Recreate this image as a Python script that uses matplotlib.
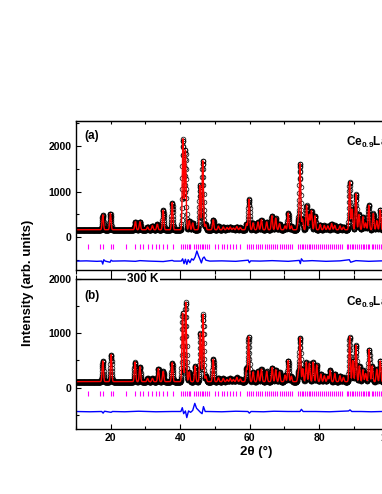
import numpy as np
import matplotlib.pyplot as plt
from matplotlib.ticker import MultipleLocator

plt.rcParams['font.family'] = ['Liberation Sans', 'DejaVu Sans']
plt.rcParams['mathtext.fontset'] = 'custom'
plt.rcParams['mathtext.bf'] = 'Liberation Sans:bold'
plt.rcParams['mathtext.rm'] = 'Liberation Sans:bold'
plt.rcParams['mathtext.default'] = 'bf'

# reflections: 2theta (deg) and height above background
pos_a = [17.7, 19.9, 27.1, 28.4, 30.6, 32.0, 33.4, 35.1, 37.7, 40.8,
         41.5, 42.6, 43.6, 45.7, 46.5, 47.3, 49.5, 51.0, 52.4, 53.5,
         54.4, 55.3, 56.3, 57.3, 59.1, 59.8, 61.0, 62.4, 63.4, 64.9,
         66.4, 67.5, 68.6, 70.2, 71.1, 72.0, 74.0, 74.5, 75.2, 76.4,
         77.2, 77.8, 78.8, 80.3, 81.5, 82.5, 83.6, 84.5, 86.0, 87.0,
         88.8, 89.5, 90.6, 91.5, 92.6, 93.4, 94.3, 95.6, 96.6, 97.6]
hgt_a = [325, 355, 175, 175, 60, 90, 120, 425, 595, 1985,
         1750, 200, 150, 975, 1515, 120, 215, 80, 60, 50,
         60, 40, 70, 50, 135, 665, 150, 170, 220, 170,
         305, 255, 135, 85, 365, 85, 200, 1445, 235, 535,
         335, 415, 305, 115, 95, 85, 135, 95, 85, 60,
         1045, 450, 785, 335, 285, 150, 535, 355, 200, 435]
bg_a = 165

pos_b = [17.7, 20.1, 27.0, 28.4, 30.6, 32.0, 33.7, 35.1, 37.7, 40.7,
         41.6, 42.6, 44.3, 45.8, 46.6, 47.4, 49.5, 51.0, 52.4, 53.5,
         54.4, 55.3, 56.3, 57.3, 59.1, 59.7, 61.0, 62.4, 63.4, 64.9,
         66.5, 67.5, 68.6, 70.2, 71.1, 72.0, 74.0, 74.5, 75.3, 76.3,
         77.2, 78.3, 79.3, 80.5, 81.5, 82.5, 83.2, 84.5, 86.0, 87.0,
         88.8, 89.7, 90.6, 91.6, 92.6, 93.4, 94.4, 95.3, 96.6, 97.6]
hgt_b = [380, 500, 360, 275, 60, 60, 240, 190, 350, 1270,
         1460, 180, 290, 890, 1240, 100, 410, 70, 60, 40,
         60, 40, 80, 50, 240, 830, 180, 200, 230, 190,
         260, 220, 180, 120, 390, 100, 150, 810, 240, 360,
         340, 360, 310, 140, 110, 100, 210, 150, 110, 80,
         830, 390, 670, 290, 220, 150, 590, 290, 230, 380]
bg_b = 110

# difference curves (obs - calc, shifted)
diff_a_x = [10, 13, 16, 17.4, 17.7, 18.0, 18.4, 19.8, 20.1, 20.5,
            24, 27.1, 28.4, 31, 35.1, 37.7, 38.2, 40.3, 40.7, 41.1,
            41.5, 41.9, 42.3, 42.8, 43.3, 43.8, 44.3, 44.8, 45.3, 45.7,
            46.1, 46.5, 46.9, 47.4, 48.5, 52, 56, 59.6, 59.9, 60.3,
            63, 66.5, 71.1, 74.3, 74.6, 74.9, 75.4, 78, 82, 86,
            88.7, 89.1, 90.6, 94.3, 98, 100]
diff_a_y = [-520, -515, -525, -520, -585, -490, -520, -545, -500, -520,
            -515, -525, -510, -520, -530, -505, -520, -520, -470, -575,
            -480, -590, -490, -555, -470, -500, -430, -300, -410, -480,
            -560, -460, -430, -500, -520, -515, -525, -500, -555, -515,
            -520, -510, -525, -505, -575, -470, -520, -510, -525, -515,
            -490, -545, -510, -525, -515, -520]
diff_b_x = [10, 14, 17.4, 17.8, 18.2, 20.1, 20.5, 24, 28, 33,
            37.7, 40.2, 40.6, 41.0, 41.5, 41.9, 42.4, 43.0, 43.6, 44.2,
            44.7, 45.3, 45.9, 46.3, 46.7, 47.2, 48, 52, 56, 59.5,
            59.9, 60.4, 64, 67, 71, 74.5, 74.9, 75.4, 79, 83,
            88.5, 88.9, 89.4, 92, 95, 98, 100]
diff_b_y = [-440, -445, -440, -470, -435, -455, -440, -445, -435, -445,
            -440, -440, -370, -480, -430, -552, -430, -455, -420, -290,
            -380, -420, -460, -480, -350, -440, -440, -445, -435, -440,
            -470, -440, -445, -435, -440, -440, -400, -440, -440, -445,
            -430, -410, -440, -440, -445, -440, -440]

# Bragg reflection markers
bragg = [13.5, 16.9, 17.9, 20.2, 20.6, 24.4, 27.0, 28.3, 29.3, 30.7, 31.8,
         33.0, 34.0, 35.1, 36.2, 37.8, 40.2, 40.8, 41.4, 41.9, 42.4, 42.9,
         44.0, 44.6, 45.2, 45.7, 46.2, 46.7, 47.2, 47.7, 48.4, 50.1, 51.0,
         51.9, 52.5, 53.4, 54.3, 55.3, 56.2, 57.1, 59.1, 59.7, 60.3, 61.0,
         61.7, 62.5, 63.1, 63.6, 64.3, 64.9, 65.6, 66.2, 66.8, 67.3, 67.9,
         68.6, 69.2, 69.8, 70.5, 71.1, 71.7, 72.3, 74.0, 74.5, 75.0, 75.5,
         76.0, 76.5, 77.0, 77.5, 78.0, 78.6, 79.1, 79.7, 80.2, 80.8, 81.4,
         81.9, 82.5, 83.0, 83.6, 84.2, 84.8, 85.4, 86.0, 86.6, 87.9, 88.4,
         88.9, 89.4, 89.9, 90.4, 90.9, 91.4, 92.0, 92.5, 93.0, 93.5, 94.0,
         94.5, 95.1, 95.6, 96.1, 96.6, 97.2, 97.7, 98.2]

two_theta = np.arange(10, 110, 0.04)


def profile(pos, hgt, bg, width=0.19):
    y = np.full_like(two_theta, float(bg))
    for p, h in zip(pos, hgt):
        y += h * np.exp(-0.5 * ((two_theta - p) / width) ** 2)
    return y


def draw_panel(ax, pos, hgt, bg, dx, dy, tick_c, tick_h):
    pattern = profile(pos, hgt, bg)
    ax.plot(two_theta, pattern, 'o', mfc='none', mec='black', ms=3.4, mew=0.5)
    ax.plot(two_theta, pattern, color='red', lw=1.0)
    ax.vlines(bragg, tick_c - tick_h, tick_c + tick_h, color='#ff00ff', lw=0.8)
    ax.plot(dx, dy, color='blue', lw=1.0)
    ax.set_xlim(10, 120)
    ax.yaxis.set_major_locator(MultipleLocator(1000))
    ax.yaxis.set_minor_locator(MultipleLocator(500))
    ax.xaxis.set_major_locator(MultipleLocator(20))
    ax.xaxis.set_minor_locator(MultipleLocator(10))
    ax.tick_params(axis='y', which='both', direction='in', width=0.8)
    ax.tick_params(axis='y', which='major', length=3.5)
    ax.tick_params(axis='y', which='minor', length=2)
    for s in ax.spines.values():
        s.set_linewidth(1.0)
    for lab in ax.get_yticklabels():
        lab.set_fontweight('bold')
        lab.set_fontsize(7.5)


fig = plt.figure(figsize=(3.82, 4.94), dpi=100)
ax_a = fig.add_axes([0.199, 0.4534, 1.0, 0.3016])
ax_b = fig.add_axes([0.199, 0.1316, 1.0, 0.3036])

draw_panel(ax_a, pos_a, hgt_a, bg_a, diff_a_x, diff_a_y, -205, 50)
draw_panel(ax_b, pos_b, hgt_b, bg_b, diff_b_x, diff_b_y, -110, 45)

ax_a.set_ylim(-715, 2540)
ax_b.set_ylim(-762, 2000)
ax_a.set_yticks([0, 1000, 2000])
ax_b.set_yticks([0, 1000, 2000])
for ax in (ax_a, ax_b):
    for lab in ax.get_yticklabels():
        lab.set_fontweight('bold')
        lab.set_fontsize(7.5)

# top panel: ticks pointing into the gap, no labels
ax_a.tick_params(axis='x', which='both', direction='out', labelbottom=False, width=0.8)
ax_a.tick_params(axis='x', which='major', length=3.5)
ax_a.tick_params(axis='x', which='minor', length=3.0)
top_a = ax_a.secondary_xaxis('top')
top_a.xaxis.set_major_locator(MultipleLocator(20))
top_a.xaxis.set_minor_locator(MultipleLocator(10))
top_a.tick_params(axis='x', which='both', direction='in', labeltop=False, width=0.8, length=2.5)

ax_b.tick_params(axis='x', which='both', direction='in', width=0.8, pad=3)
ax_b.tick_params(axis='x', which='major', length=3.5)
ax_b.tick_params(axis='x', which='minor', length=2)
for lab in ax_b.get_xticklabels():
    lab.set_fontweight('bold')
    lab.set_fontsize(7.5)
top_b = ax_b.secondary_xaxis('top')
top_b.xaxis.set_major_locator(MultipleLocator(20))
top_b.xaxis.set_minor_locator(MultipleLocator(10))
top_b.tick_params(axis='x', which='both', direction='out', labeltop=False, width=0.8)
top_b.tick_params(axis='x', which='major', length=3.5)
top_b.tick_params(axis='x', which='minor', length=3.0)

fig.text(143 / 382, 1 - 279 / 494, '300 K', ha='center', va='center',
         fontsize=8.5, fontweight='bold',
         bbox=dict(facecolor='white', edgecolor='none', pad=0.6))

fig.text(0.222, 0.737, '(a)', fontsize=8.5, fontweight='bold', va='top')
fig.text(0.222, 0.412, '(b)', fontsize=8.5, fontweight='bold', va='top')
formula = r'Ce$_{0.9}$La$_{0.1}$Fe$_{2}$'
fig.text(0.907, 0.727, formula, fontsize=8.5, fontweight='bold', va='top')
fig.text(0.907, 0.403, formula, fontsize=8.5, fontweight='bold', va='top')

fig.text(0.073, 0.427, 'Intensity (arb. units)', rotation=90, ha='center',
         va='center', fontsize=9.5, fontweight='bold')
fig.text(256 / 382, 1 - 452 / 494, '2θ (°)', ha='center', va='center',
         fontsize=9.5, fontweight='bold')

fig.savefig('out.png', dpi=100)
